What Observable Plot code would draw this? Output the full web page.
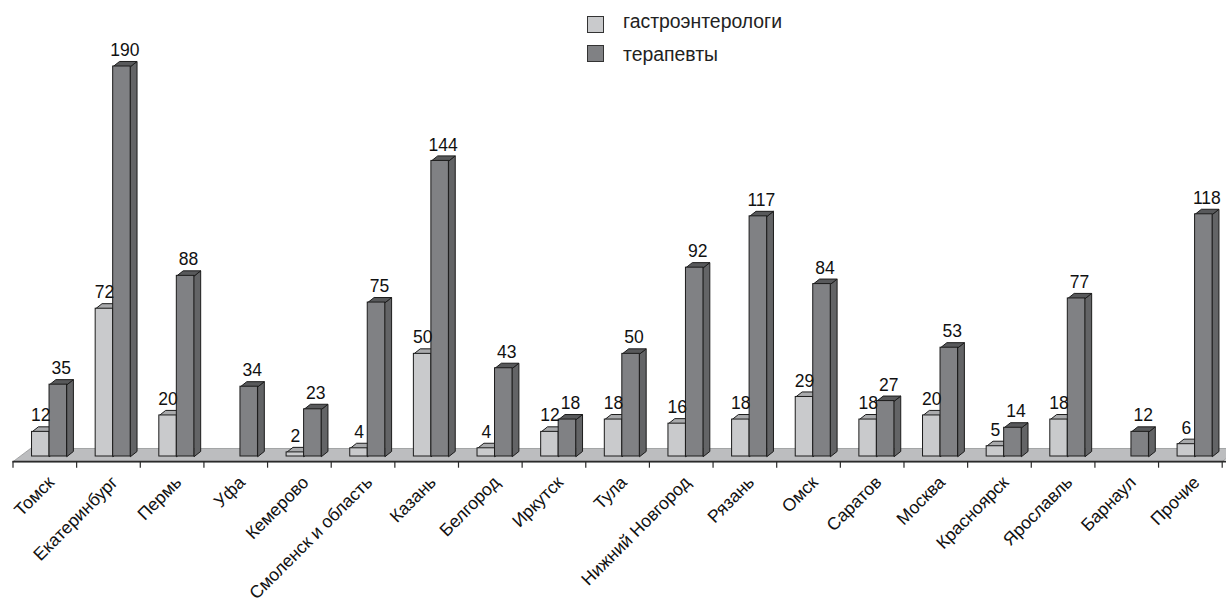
<!DOCTYPE html>
<html lang="ru">
<head>
<meta charset="utf-8">
<script src="https://cdn.jsdelivr.net/npm/d3@7"></script>
<script src="https://cdn.jsdelivr.net/npm/@observablehq/plot@0.6"></script>
<style>
  html, body { margin: 0; padding: 0; background: #fff; overflow: hidden; }
  #chart { position: relative; width: 1226px; height: 607px; font-family: "Liberation Sans", Arial, sans-serif; color: #222; }
  #chart svg { display: block; background: transparent; }
  .legend { position: absolute; left: 587px; top: 16px; }
  .legend i { position: absolute; left: 0; width: 15px; height: 15px; border: 1.5px solid #333; }
  .legend span { position: absolute; left: 36px; white-space: nowrap; font-size: 19.4px; line-height: 18px; }
</style>
</head>
<body>
<div id="chart"></div>
<script>
const cities = ["Томск", "Екатеринбург", "Пермь", "Уфа", "Кемерово", "Смоленск и область", "Казань", "Белгород", "Иркутск", "Тула", "Нижний Новгород", "Рязань", "Омск", "Саратов", "Москва", "Красноярск", "Ярославль", "Барнаул", "Прочие"];
const gastroenterologists = [12, 72, 20, null, 2, 4, 50, 4, 12, 18, 16, 18, 29, 18, 20, 5, 18, null, 6];
const therapists = [35, 190, 88, 34, 23, 75, 144, 43, 18, 50, 92, 117, 84, 27, 53, 14, 77, 12, 118];

const seriesNames = ["гастроэнтерологи", "терапевты"];
const faceColors = {
  light: {front: "#c9cacc", top: "#a9aaac", side: "#8c8d8f"},
  dark: {front: "#808184", top: "#58595b", side: "#636466"}
};

// Extrusion and layout, in scale units (category index on x, doctors on y)
const barWidth = 0.275;
const groupCentre = 0.574;
const depthX = 0.1;
const depthY = 2.45;
const floorFront = -2.5;
const floorBack = 3.9;
const floorSkew = 0.275;

const rows = (values, offset) => values
  .map((value, i) => ({i, value, x1: i + groupCentre + offset, x2: i + groupCentre + offset + barWidth}))
  .filter(d => d.value != null);

const lightBars = rows(gastroenterologists, -barWidth);
const darkBars = rows(therapists, 0);

// Outline of the top and right faces of each box
const topFace = bars => bars.flatMap(d => [
  {id: d.i, x: d.x1, y: d.value},
  {id: d.i, x: d.x1 + depthX, y: d.value + depthY},
  {id: d.i, x: d.x2 + depthX, y: d.value + depthY},
  {id: d.i, x: d.x2, y: d.value}
]);
const sideFace = bars => bars.flatMap(d => [
  {id: d.i, x: d.x2, y: 0},
  {id: d.i, x: d.x2 + depthX, y: depthY},
  {id: d.i, x: d.x2 + depthX, y: d.value + depthY},
  {id: d.i, x: d.x2, y: d.value}
]);

const box = (bars, colors) => [
  Plot.line(sideFace(bars), {x: "x", y: "y", z: "id", curve: "linear-closed", fill: colors.side, stroke: "#1c1c1c", strokeWidth: 1}),
  Plot.line(topFace(bars), {x: "x", y: "y", z: "id", curve: "linear-closed", fill: colors.top, stroke: "#1c1c1c", strokeWidth: 1}),
  Plot.rect(bars, {x1: "x1", x2: "x2", y1: 0, y2: "value", fill: colors.front, stroke: "#1c1c1c", strokeWidth: 1})
];

const floor = [
  {x: 0, y: floorFront},
  {x: floorSkew, y: floorBack},
  {x: cities.length + floorSkew, y: floorBack},
  {x: cities.length, y: floorFront}
];

const valueLabel = (bars, dx) => Plot.text(bars, {
  x: d => (d.x1 + d.x2) / 2,
  y: "value",
  text: d => String(d.value),
  dx,
  dy: -16,
  fontSize: 17.5,
  fill: "#111"
});

const plot = Plot.plot({
  width: 1226,
  height: 607,
  margin: 0,
  style: {fontFamily: "'Liberation Sans', Arial, sans-serif", background: "transparent"},
  x: {type: "linear", domain: [0, cities.length], range: [12.5, 1221.7], axis: null},
  y: {type: "linear", domain: [0, 190], range: [456, 66], axis: null},
  marks: [
    Plot.line(floor, {x: "x", y: "y", curve: "linear-closed", fill: "#bcbdbf", stroke: "#8a8b8d", strokeWidth: 0.7}),
    ...box(lightBars, faceColors.light),
    ...box(darkBars, faceColors.dark),
    Plot.ruleY([floorFront], {x1: 0, x2: cities.length + floorSkew, stroke: "#2a2a2a", strokeWidth: 1.6}),
    Plot.ruleX(d3.range(cities.length + 1), {y1: floorFront, y2: -5.7, stroke: "#2a2a2a", strokeWidth: 1.2}),
    valueLabel(lightBars, 0),
    valueLabel(darkBars, 3),
    Plot.text(cities, {
      x: (d, i) => i + 0.6,
      y: -11.2,
      text: d => d,
      rotate: -45,
      textAnchor: "end",
      fontSize: 17.6,
      fill: "#111"
    })
  ]
});

const chart = document.getElementById("chart");
chart.append(plot);

// Key in the top part of the frame
const legend = document.createElement("div");
legend.className = "legend";
const swatchTops = [0, 29];
const labelTops = [-4, 29];
seriesNames.forEach((name, k) => {
  const swatch = document.createElement("i");
  swatch.style.top = `${swatchTops[k]}px`;
  swatch.style.background = k === 0 ? faceColors.light.front : faceColors.dark.front;
  const label = document.createElement("span");
  label.style.top = `${labelTops[k]}px`;
  label.textContent = name;
  legend.append(swatch, label);
});
chart.append(legend);
</script>
</body>
</html>
